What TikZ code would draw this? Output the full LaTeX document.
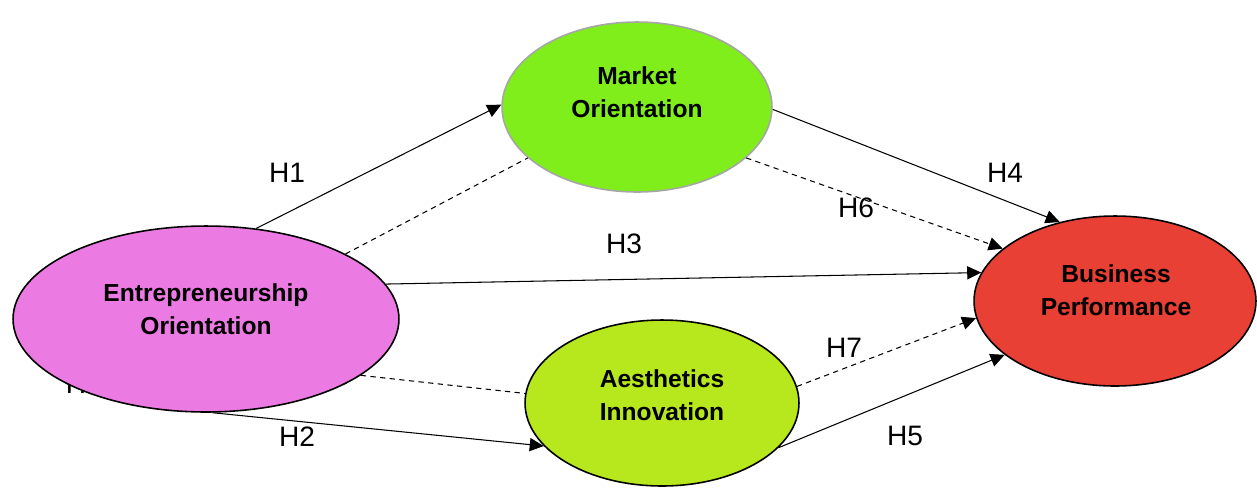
\documentclass[tikz,border=0pt]{standalone}
\usepackage{fontspec}
\setmainfont{Liberation Sans}
\usetikzlibrary{arrows.meta,shapes}
\tikzset{>={Triangle[length=8pt,width=7.5pt]}}
\definecolor{eocol}{RGB}{235,123,226}
\definecolor{mocol}{RGB}{127,238,27}
\definecolor{aicol}{RGB}{183,232,30}
\definecolor{bpcol}{RGB}{232,64,52}
\tikzstyle{construct}=[ellipse,draw=black,line width=0.9pt,inner sep=0pt]
\tikzstyle{ctext}=[align=center,font=\fontsize{14}{19}\selectfont\bfseries]
\tikzstyle{hyp}=[font=\fontsize{16}{19}\selectfont]
\tikzstyle{link}=[->,line width=0.6pt]
\tikzstyle{indirect}=[line width=0.6pt,dash pattern=on 3pt off 2.5pt]

\begin{document}
\begin{tikzpicture}[x=0.02cm,y=-0.02cm]
	\useasboundingbox (0,0) rectangle (1257,488);

    \node[hyp] (h0) at (76,384) {H};
    
    \node[construct,fill=eocol,minimum width=7.72cm,minimum height=3.72cm] (eo) at (206,319) {};
    \node[construct,fill=mocol,draw=gray!70,minimum width=5.4cm,minimum height=3.4cm] (mo) at (637,107) {};
    \node[construct,fill=aicol,minimum width=5.48cm,minimum height=3.32cm] (ai) at (662,403) {};
    \node[construct,fill=bpcol,minimum width=5.64cm,minimum height=3.4cm] (bp) at (1115,301) {};
    
    \node[ctext] (eotext) at (206,309) {Entrepreneurship\\Orientation};
    \node[ctext] (motext) at (637,92) {Market\\Orientation};
    \node[ctext] (aitext) at (662,395) {Aesthetics\\Innovation};
    \node[ctext] (bptext) at (1116,290) {Business\\Performance};
    
    \draw[link] (eo.61) -- (mo.179);
    \draw[indirect] (eo.25) -- (mo.205);
    \draw[link] (eo.11) -- (bp.168);
    \draw[indirect] (eo.-20) -- (ai.176);
    \draw[link] (eo.-86) -- (ai.200);
    \draw[link] (mo.-1) -- (bp.125);
    \draw[indirect,->] (mo.-25) -- (bp.155);
    \draw[indirect,->] (ai.7) -- (bp.187);
    \draw[link] (ai.-21) -- (bp.206);
    
    \node[hyp] (h1) at (287,173) {H1};
    \node[hyp] (h2) at (297,437) {H2};
    \node[hyp] (h3) at (624,244) {H3};
    \node[hyp] (h4) at (1005,173) {H4};
    \node[hyp] (h5) at (905,436) {H5};
    \node[hyp] (h6) at (856,208) {H6};
    \node[hyp] (h7) at (844,348) {H7};
\end{tikzpicture}
\end{document}
